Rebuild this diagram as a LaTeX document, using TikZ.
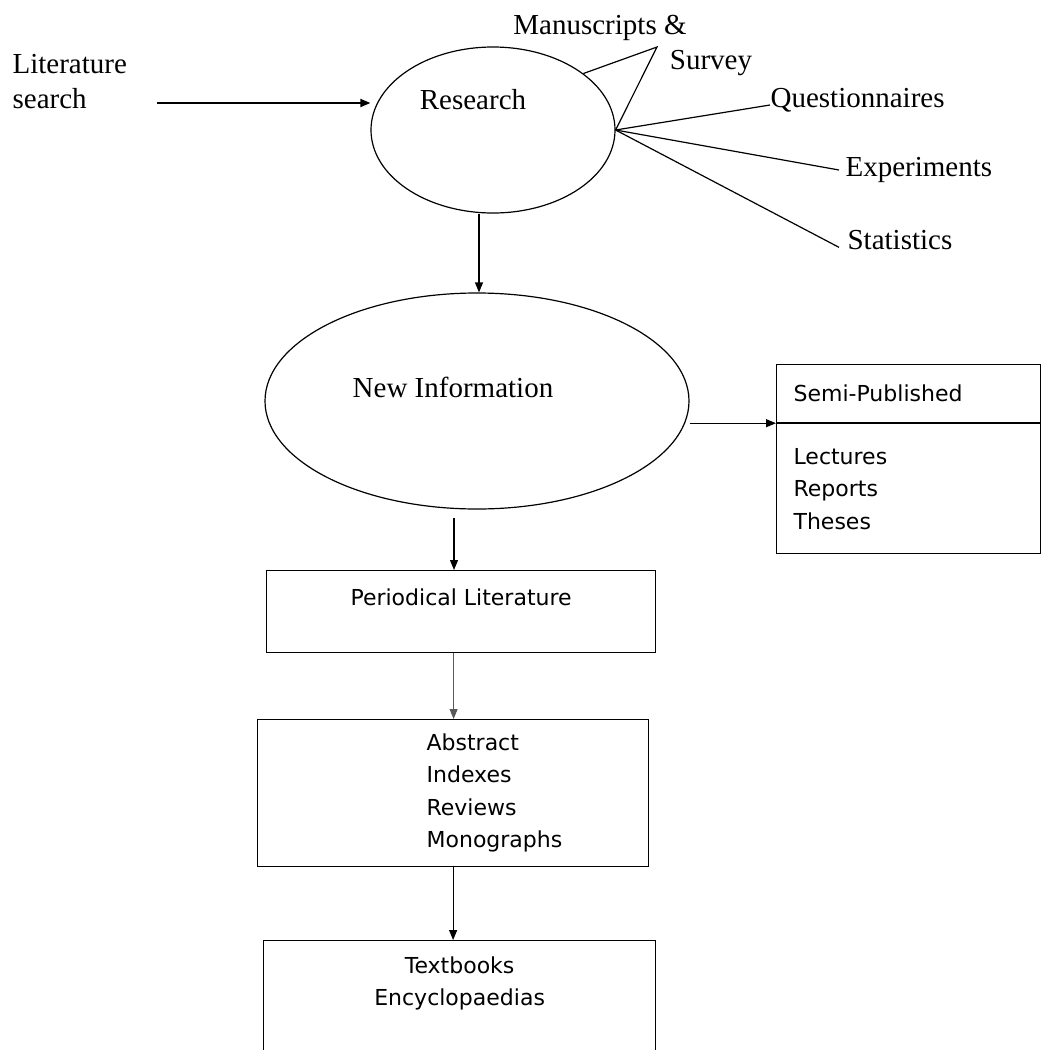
\documentclass[tikz,border=0pt]{standalone}
\usepackage{fontspec}
\setmainfont{Liberation Serif}
\newfontfamily\boxfont{DejaVu Sans}
\usetikzlibrary{shapes.geometric,positioning,arrows.meta}
\newcommand\serifsize{\fontsize{29}{35}\selectfont}
\newcommand\sanssize{\boxfont\fontsize{22}{32.5}\selectfont}
\tikzset{
  % ellipses and boxes of the flow
  bubble/.style={ellipse,draw,inner sep=0},
  plainbox/.style={rectangle,draw,inner sep=0},
  % the two kinds of text
  serif text/.style={font=\serifsize,inner sep=0},
  sans text/.style={font=\sanssize,inner sep=0,align=left},
  flow/.style={->,line width=1.2pt}
}

\begin{document}
\begin{tikzpicture}[x=1pt,y=-1pt,line width=1.2pt,>={Triangle[length=10pt,width=8pt]}]
  \clip (0,0) rectangle (1043,1050);
  % Research and what feeds it
  \node(lit)[serif text,align=left,anchor=west] at (12,82) {Literature\\search};
  \node(research)[bubble,minimum width=244pt,minimum height=166pt] at (493,130) {};
  \node(researchtxt)[serif text] at (473,100) {Research};
  \coordinate(litend) at (157,103);
  \draw[flow,line width=1.8pt] (litend) -- (litend -| research.west);
  % methods fanning out of the research
  \node(manus)[serif text] at (600,28) {Manuscripts \&};
  \node(survey)[serif text] at (711,63) {Survey};
  \node(quest)[serif text,anchor=west] at (770,100) {Questionnaires};
  \node(exper)[serif text,anchor=west] at (845,170) {Experiments};
  \node(stats)[serif text,anchor=west] at (847,240) {Statistics};
  \coordinate(msapex) at (657,47);
  \draw (research.32) -- (msapex) -- (research.east);
  \draw (research.east) -- ([yshift=-5pt]quest.west);
  \draw (research.east) -- ([xshift=-6pt]exper.west);
  \draw (research.east) -- ([xshift=-8pt,yshift=3pt]stats.south west);
  % New information
  \node(newinfo)[bubble,minimum width=424pt,minimum height=216pt] at (477,401) {};
  \node(newinfotxt)[serif text] at (453,387) {New Information};
  \draw[flow] ([xshift=-14pt]research.south) -- ([xshift=-14pt]research.south |- newinfo.north);
  % semi-published box
  \node(semitop)[plainbox,minimum width=264pt,minimum height=58pt,anchor=north west] at (776,364) {};
  \node(semibot)[plainbox,minimum width=264pt,minimum height=130pt,anchor=north west] at (semitop.south west) {};
  \node(semititle)[sans text,right=17pt of semitop.west] {Semi-Published};
  \node(semilist)[sans text,right=17pt of semibot.west] {Lectures\\Reports\\Theses};
  \draw[flow] (newinfo.east |- semibot.north west) -- (semibot.north west);
  % the chain of literature
  \node(period)[plainbox,minimum width=389pt,minimum height=82pt,anchor=north west] at (266,570) {};
  \node(periodtxt)[sans text,below=18pt of period.north] {Periodical Literature};
  \node(abstr)[plainbox,minimum width=391pt,minimum height=147pt,anchor=north west] at (257,719) {};
  \node(abstrtxt)[sans text,right=169pt of abstr.west] {Abstract\\Indexes\\Reviews\\Monographs};
  \node(textbk)[plainbox,minimum width=392pt,minimum height=160pt,anchor=north west] at (263,940) {};
  \node(textbktxt)[sans text,align=center,below=16pt of textbk.north] {Textbooks\\Encyclopaedias};
  \draw[flow] ([xshift=-23pt,yshift=-8pt]newinfo.south) -- ([xshift=-23pt]newinfo.south |- period.north);
  \draw[flow,line width=1pt,gray!70!black] ([xshift=-7.5pt]period.south) -- ([xshift=-7.5pt]period.south |- abstr.north);
  \draw[flow] (abstr.south) -- (abstr.south |- textbk.north);
\end{tikzpicture}
\end{document}
